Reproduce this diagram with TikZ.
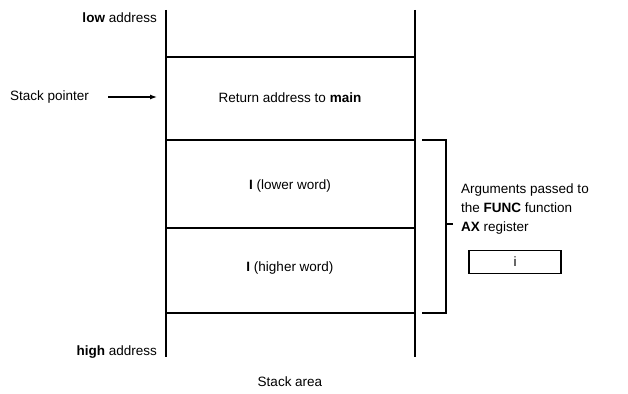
\documentclass[tikz,border=0pt]{standalone}
\usepackage{fontspec}
\setmainfont{Liberation Sans}
\usetikzlibrary{arrows.meta}
\tikzset{
  wall/.style={line width=1.4pt},
  lbl/.style={inner sep=0pt, font=\fontsize{13.5}{19}\selectfont},
  slot/.style={inner sep=0pt, font=\fontsize{13.5}{19}\selectfont},
}
\begin{document}
\begin{tikzpicture}[x=1pt,y=-1pt]
\useasboundingbox (0,0) rectangle (628,393);
% stack frame corners and divisions
\coordinate (tl) at (166,10);  \coordinate (tr) at (415,10);
\coordinate (bl) at (166,357); \coordinate (br) at (415,357);
\foreach \n/\y in {a/57,b/140,c/228,d/313}{
  \coordinate (l\n) at (166,\y); \coordinate (r\n) at (415,\y);
}
\draw[wall] (tl) -- (bl);
\draw[wall] (tr) -- (br);
\foreach \n in {a,b,c,d}{ \draw[wall] (l\n) -- (r\n); }

% slot contents
\node[slot] (ret) at (290,98) {Return address to \textbf{main}};
\node[slot] (lw) at (290,186) {\textbf{I} (lower word)};
\node[slot] (hw) at (290,268) {\textbf{I} (higher word)};

% address labels
\node[lbl, anchor=east] (low) at (157,18) {\textbf{low} address};
\node[lbl, anchor=east] (high) at (157,352) {\textbf{high} address};
\node[slot] (area) at (290,382) {Stack area};

% stack pointer
\node[lbl, anchor=west] (sp) at (10,97) {Stack pointer};
\coordinate (spstart) at (108,97);
\coordinate (spend) at (157,97);
\draw[line width=1.2pt, -{Latex[length=7pt,width=5pt]}] (spstart) -- (spend);

% bracket for the arguments
\coordinate (bt) at (422,140); \coordinate (bb) at (422,313);
\draw[wall] (bt) -- (446,140) -- (446,313) -- (bb);
\coordinate (bm) at (446,224);
\draw[wall] (bm) -- ++(7,0);

\node[lbl, anchor=west, align=left] (args) at (461,209)
  {Arguments passed to\\the \textbf{FUNC} function\\\textbf{AX} register};
\node[draw, line width=1.1pt, minimum width=92pt, minimum height=23pt, inner sep=0pt,
      font=\fontsize{13.5}{19}\selectfont] (ax) at (515,262) {i};
\end{tikzpicture}
\end{document}
